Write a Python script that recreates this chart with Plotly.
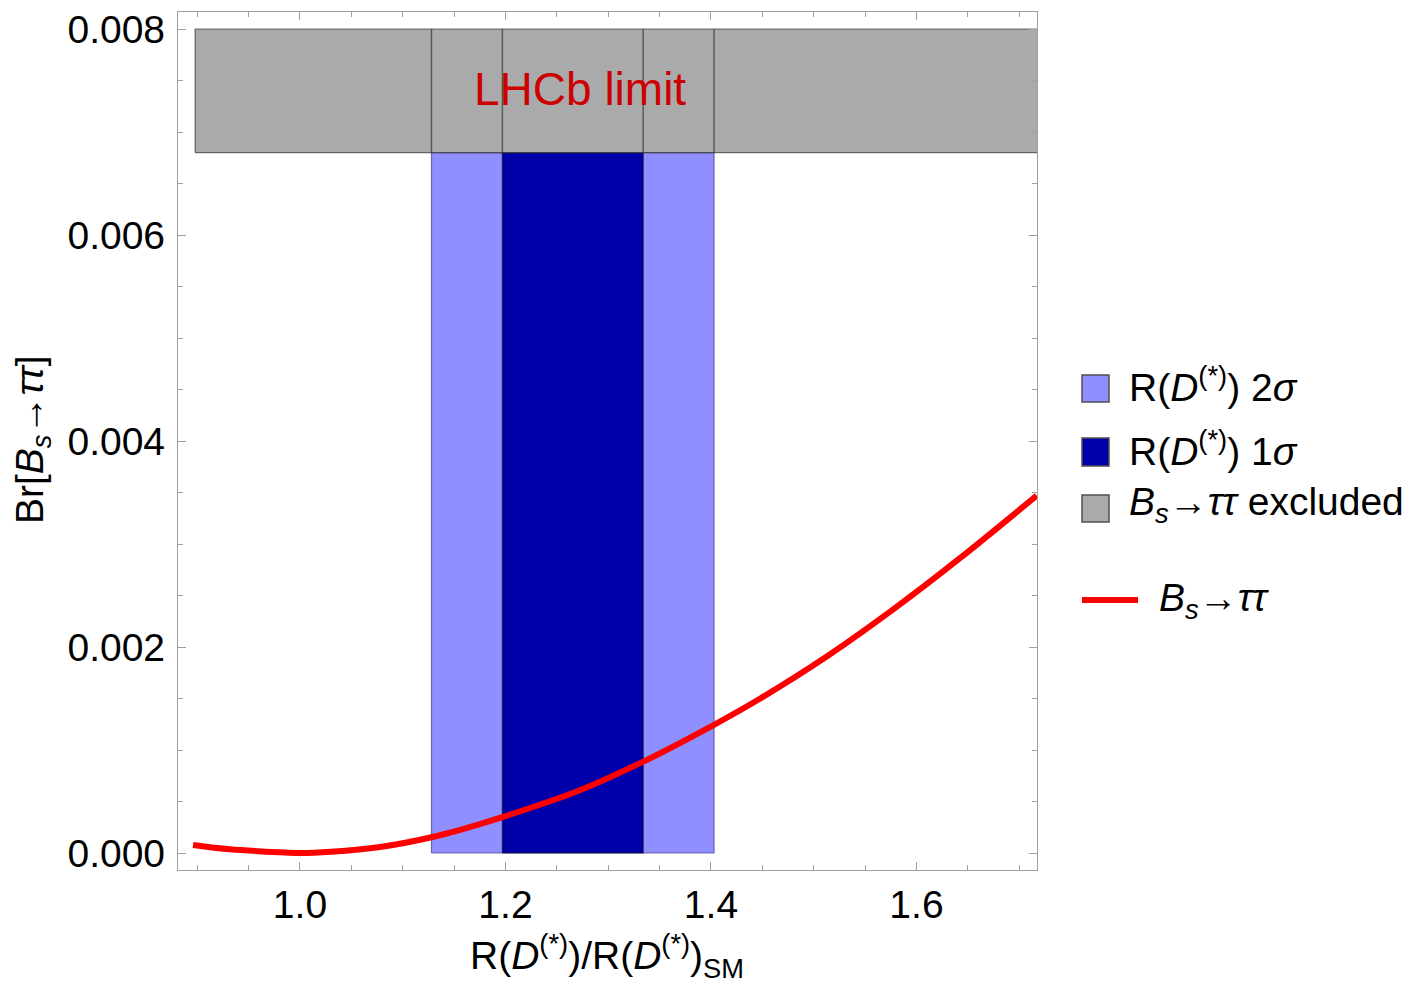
import plotly.graph_objects as go

# ---------------- data ----------------
curve_x = [0.896, 0.932, 0.980, 1.000, 1.030, 1.078, 1.129, 1.175, 1.196, 1.273,
           1.334, 1.402, 1.448, 1.513, 1.578, 1.642, 1.717]
curve_y = [0.000078, 0.000036, 0.000007, 0.0, 0.000012, 0.000058, 0.000155, 0.000280,
           0.000345, 0.000612, 0.000887, 0.00124, 0.00150, 0.00191, 0.00237, 0.00286, 0.00347]

band_2sigma = [1.128, 1.403]      # R(D*) 2 sigma range
band_1sigma = [1.197, 1.334]      # R(D*) 1 sigma range
excluded_x = [0.898, 1.72]        # LHCb excluded region (x extent)
excluded_y = [0.0068, 0.0080]     # LHCb excluded region (y extent)
band_bottom = 0.0

x_ticks = [1.0, 1.2, 1.4, 1.6]
y_ticks = [0.000, 0.002, 0.004, 0.006, 0.008]
x_range = [0.8813, 1.7173]
y_range = [-0.000165, 0.008165]

FONT = "Liberation Sans, Arial, sans-serif"
C2 = "rgb(143,143,255)"
C1 = "rgb(0,0,170)"
CG = "rgb(170,170,170)"
EDGE = "rgba(40,40,40,0.65)"


def rect(x0, x1, y0, y1):
    return [x0, x1, x1, x0, x0], [y0, y0, y1, y1, y0]


fig = go.Figure()

# 2 sigma band
xs, ys = rect(band_2sigma[0], band_2sigma[1], band_bottom, excluded_y[0])
fig.add_trace(go.Scatter(x=xs, y=ys, fill="toself", fillcolor=C2, mode="lines",
                         line=dict(color="rgba(80,80,150,0.8)", width=1.2),
                         showlegend=False, hoverinfo="skip"))
# 1 sigma band
xs, ys = rect(band_1sigma[0], band_1sigma[1], band_bottom, excluded_y[0])
fig.add_trace(go.Scatter(x=xs, y=ys, fill="toself", fillcolor=C1, mode="lines",
                         line=dict(color="rgba(20,20,40,0.8)", width=1.2),
                         showlegend=False, hoverinfo="skip"))
# excluded region
xs, ys = rect(excluded_x[0], excluded_x[1], excluded_y[0], excluded_y[1])
fig.add_trace(go.Scatter(x=xs, y=ys, fill="toself", fillcolor=CG, mode="lines",
                         line=dict(color=EDGE, width=1.2),
                         showlegend=False, hoverinfo="skip"))
# band edges seen through the excluded region
for xe in band_2sigma + band_1sigma:
    fig.add_trace(go.Scatter(x=[xe, xe], y=excluded_y, mode="lines",
                             line=dict(color=EDGE, width=1.4),
                             showlegend=False, hoverinfo="skip"))

# Bs -> tau tau curve
fig.add_trace(go.Scatter(x=curve_x, y=curve_y, mode="lines", line_shape="spline",
                         line=dict(color="rgb(255,0,0)", width=6),
                         showlegend=False, hoverinfo="skip"))

# LHCb limit label
fig.add_annotation(x=1.2725, y=0.00742, xref="x", yref="y", text="LHCb limit",
                   showarrow=False, font=dict(family=FONT, size=46, color="rgb(204,0,0)"),
                   xanchor="center", yanchor="middle")

# ---------------- manual legend ----------------
L = 178
R = 1037
T = 12
B = 870
W = R - L
H = B - T
TXT = 39


def px(xp):
    return (xp - L) / W


def py(yp):
    return (B - yp) / H


legend_items = [
    (C2, 375, 402, "R(<i>D</i><sup>(*)</sup>) 2<i>σ</i>"),
    (C1, 438, 466, "R(<i>D</i><sup>(*)</sup>) 1<i>σ</i>"),
    (CG, 495, 522, "<i>B<sub>s</sub></i>→<i>ττ</i> excluded"),
]
for col, y0, y1, txt in legend_items:
    fig.add_shape(type="rect", xref="paper", yref="paper",
                  x0=px(1082), x1=px(1109), y0=py(y1), y1=py(y0),
                  fillcolor=col, line=dict(color="rgb(80,80,80)", width=1.5))
    fig.add_annotation(xref="paper", yref="paper", x=px(1127), y=py((y0 + y1) / 2 - 4),
                       text=txt, showarrow=False, xanchor="left", yanchor="middle",
                       font=dict(family=FONT, size=TXT, color="black"))

fig.add_shape(type="line", xref="paper", yref="paper", x0=px(1082), x1=px(1138),
              y0=py(600), y1=py(600), line=dict(color="rgb(255,0,0)", width=6))
fig.add_annotation(xref="paper", yref="paper", x=px(1157), y=py(600),
                   text="<i>B<sub>s</sub></i>→<i>ττ</i>", showarrow=False,
                   xanchor="left", yanchor="middle",
                   font=dict(family=FONT, size=TXT, color="black"))

# axis titles
fig.add_annotation(xref="paper", yref="paper", x=px(607), y=py(956),
                   text="R(<i>D</i><sup>(*)</sup>)/R(<i>D</i><sup>(*)</sup>)<sub>SM</sub>",
                   showarrow=False, xanchor="center", yanchor="middle",
                   font=dict(family=FONT, size=TXT, color="black"))
fig.add_annotation(xref="paper", yref="paper", x=px(32), y=py(440),
                   text="Br[<i>B<sub>s</sub></i>→<i>ττ</i>]", textangle=-90,
                   showarrow=False, xanchor="center", yanchor="middle",
                   font=dict(family=FONT, size=TXT, color="black"))

axis_common = dict(showline=True, linecolor="rgb(160,160,160)", linewidth=1.3,
                   mirror="ticks", ticks="inside", ticklen=8, tickwidth=1.3,
                   tickcolor="rgb(160,160,160)", showgrid=False, zeroline=False,
                   automargin=False,
                   tickfont=dict(family=FONT, size=39, color="black"))

fig.update_xaxes(range=x_range, tickmode="array", tickvals=x_ticks,
                 ticktext=[f"{v:.1f}" for v in x_ticks], ticklabelstandoff=0,
                 minor=dict(tickmode="linear", tick0=0.0, dtick=0.05, ticks="inside",
                            ticklen=5, tickwidth=1.1, tickcolor="rgb(160,160,160)"),
                 **axis_common)
fig.update_yaxes(range=y_range, tickmode="array", tickvals=y_ticks,
                 ticktext=[f"{v:.3f}" for v in y_ticks], ticklabelstandoff=4,
                 minor=dict(tickmode="linear", tick0=0.0, dtick=0.0005, ticks="inside",
                            ticklen=5, tickwidth=1.1, tickcolor="rgb(160,160,160)"),
                 **axis_common)

fig.update_layout(width=1418, height=984, margin=dict(l=L, r=1418 - R, t=T, b=984 - B),
                  plot_bgcolor="white", paper_bgcolor="white", showlegend=False)

fig.write_html("out.html")
